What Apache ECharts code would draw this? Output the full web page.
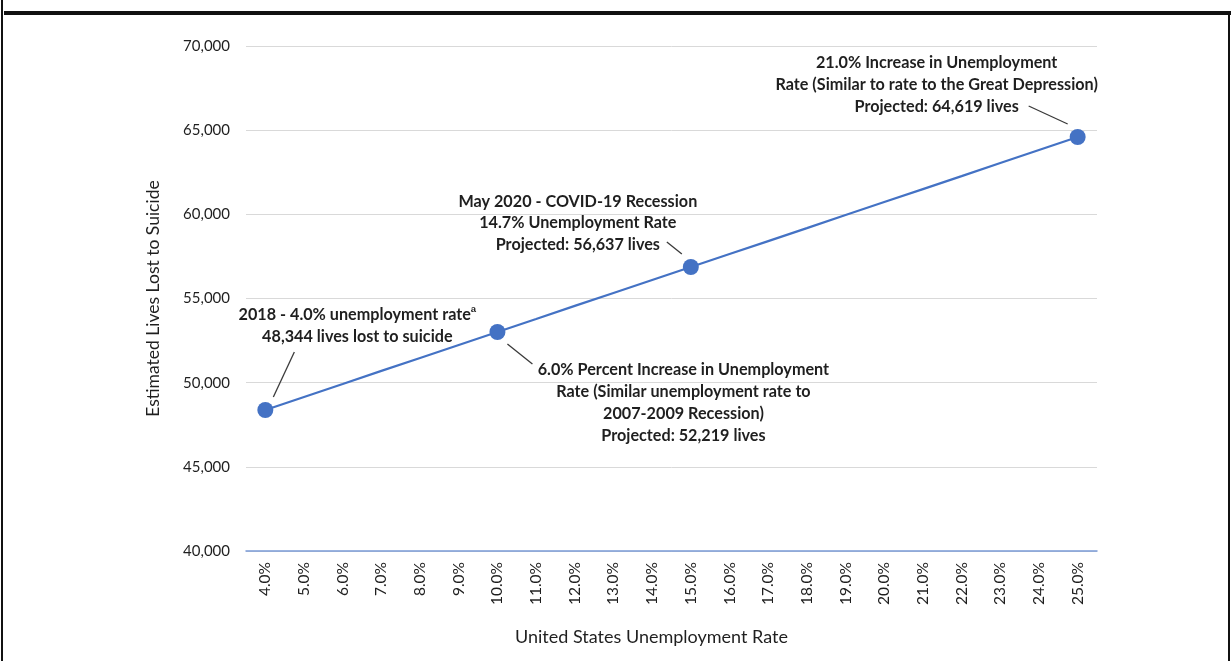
<!DOCTYPE html>
<html>
<head>
<meta charset="utf-8">
<script src="https://cdn.jsdelivr.net/npm/echarts@6/dist/echarts.min.js"></script>
<style>
html,body{margin:0;padding:0;background:#fff;}
#chart{width:1231px;height:661px;}
</style>
</head>
<body>
<div id="chart"></div>
<script>
const categories = ['4.0%','5.0%','6.0%','7.0%','8.0%','9.0%','10.0%','11.0%','12.0%','13.0%','14.0%','15.0%','16.0%','17.0%','18.0%','19.0%','20.0%','21.0%','22.0%','23.0%','24.0%','25.0%'];
const lives = [48376,49150,49920,50700,51470,52240,53010,53780,54560,55330,56100,56870,57640,58410,59180,59960,60730,61500,62270,63050,63820,64594];
const markedRates = ['4.0%','10.0%','15.0%','25.0%'];
const yTicks = [40000,45000,50000,55000,60000,65000,70000];
const annotationTexts = [
  ['2018 - 4.0% unemployment rate{sup|a}', '48,344 lives lost to suicide'],
  ['6.0% Percent Increase in Unemployment', 'Rate (Similar unemployment rate to', '2007-2009 Recession)', 'Projected: 52,219 lives'],
  ['May 2020 - COVID-19 Recession', '14.7% Unemployment Rate', 'Projected: 56,637 lives'],
  ['21.0% Increase in Unemployment', 'Rate (Similar to rate to the Great Depression)', 'Projected: 64,619 lives']
];
const yAxisTitle = 'Estimated Lives Lost to Suicide';
const xAxisTitle = 'United States Unemployment Rate';

const FONT = 'Lato';
const TXT = '#1f1f1f';
const BLUE = '#4472C4';

const chart = echarts.init(document.getElementById('chart'));
const seriesData = categories.map((c, i) => {
  const marked = markedRates.indexOf(c) >= 0;
  return marked ? {value: lives[i], symbol: 'circle', symbolSize: 16} : {value: lives[i], symbol: 'none'};
});

chart.setOption({
  animation: false,
  backgroundColor: '#fff',
  grid: {left: 246, right: 134, top: 46, bottom: 110, containLabel: false},
  xAxis: {
    type: 'category',
    data: categories,
    boundaryGap: true,
    name: xAxisTitle,
    nameLocation: 'middle',
    nameGap: 77,
    nameTextStyle: {fontFamily: FONT, fontSize: 18, color: TXT, padding: [0, 40, 0, 0]},
    axisLine: {show: true, lineStyle: {color: '#7a9ad6', width: 1.5}},
    axisTick: {show: false},
    axisLabel: {rotate: 90, interval: 0, margin: 11, fontFamily: FONT, fontSize: 15.5, color: TXT}
  },
  yAxis: {
    type: 'value',
    min: yTicks[0],
    max: yTicks[yTicks.length - 1],
    interval: 5000,
    name: yAxisTitle,
    nameLocation: 'middle',
    nameGap: 84,
    nameRotate: 90,
    nameTextStyle: {fontFamily: FONT, fontSize: 17.5, color: TXT},
    axisLine: {show: false},
    axisTick: {show: false},
    splitLine: {lineStyle: {color: '#d9d9d9', width: 1}},
    axisLabel: {margin: 16, fontFamily: FONT, fontSize: 15, color: TXT,
      formatter: v => v.toLocaleString('en-US')}
  },
  series: [{
    type: 'line',
    data: seriesData,
    symbol: 'none',
    showSymbol: true,
    lineStyle: {color: BLUE, width: 2.2},
    itemStyle: {color: BLUE},
    z: 3
  }]
});

// annotation layout relative to the marker pixel positions
const annLayout = [
  {dx: 92, dy: -84, lh: 22, lead: [29, -58, 8, -13]},
  {dx: 186, dy: 71, lh: 22, lead: [10, 12, 35, 32]},
  {dx: -113, dy: -44, lh: 21.5, lead: [-24, -25, -9, -13]},
  {dx: -141, dy: -52, lh: 22, lead: [-49, -31, -10, -13]}
];

const graphics = [];
markedRates.forEach((rate, k) => {
  const idx = categories.indexOf(rate);
  const p = chart.convertToPixel({seriesIndex: 0}, [idx, lives[idx]]);
  const L = annLayout[k];
  graphics.push({
    type: 'text',
    x: p[0] + L.dx,
    y: p[1] + L.dy,
    z: 10,
    style: {
      text: annotationTexts[k].join('\n'),
      fontFamily: FONT, fontSize: 16.2, fontWeight: 'bold', fill: TXT,
      align: 'center', verticalAlign: 'middle', lineHeight: L.lh,
      rich: {sup: {fontSize: 9.5, fontWeight: 'bold', fill: TXT, verticalAlign: 'top', lineHeight: L.lh, padding: [0, 0, 8, 0]}}
    }
  });
  graphics.push({
    type: 'line',
    z: 10,
    shape: {x1: p[0] + L.lead[0], y1: p[1] + L.lead[1], x2: p[0] + L.lead[2], y2: p[1] + L.lead[3]},
    style: {stroke: '#3a3a3a', lineWidth: 1.3}
  });
});

// page frame
graphics.push({type: 'rect', shape: {x: 4, y: 11, width: 1227, height: 4}, style: {fill: '#111'}, z: 20});
graphics.push({type: 'rect', shape: {x: 1, y: 0, width: 2, height: 661}, style: {fill: '#111'}, z: 20});
graphics.push({type: 'rect', shape: {x: 1228, y: 13, width: 2, height: 648}, style: {fill: '#111'}, z: 20});

chart.setOption({graphic: graphics});
</script>
</body>
</html>
